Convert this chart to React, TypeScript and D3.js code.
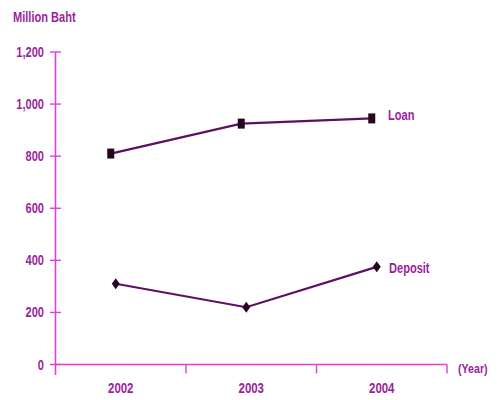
import React from "react";
import * as d3 from "d3";

// Annual figures, million baht
const years = [2002, 2003, 2004];
const loan = [810, 925, 945];
const deposit = [310, 220, 375];
const yTicks = [0, 200, 400, 600, 800, 1000, 1200];

const W = 497;
const H = 400;
const AXIS = "#dc3fdc";
const TEXT = "#9a1f9c";
const LINE = "#5e0f62";
const MARK = "#250820";
const FONT = "'Liberation Sans', Arial, sans-serif";
const SQUEEZE = 0.79;

type LabelProps = {
  x: number;
  y: number;
  anchor?: "start" | "middle" | "end";
  size?: number;
  children: React.ReactNode;
};

// Condensed bold label: horizontally squeezed around its anchor point
function Label({ x, y, anchor = "start", size = 14, children }: LabelProps) {
  return (
    <g transform={`translate(${x},${y}) scale(${SQUEEZE},1)`}>
      <text x={0} y={0} textAnchor={anchor} fontSize={size} fill={TEXT}>
        {children}
      </text>
    </g>
  );
}

export default function App() {
  const x = d3.scaleBand<number>().domain(years).range([55.5, 447]);
  const y = d3.scaleLinear().domain([0, 1200]).range([364.5, 52]);
  const cx = (yr: number) => (x(yr) as number) + x.bandwidth() / 2;

  const loanDx = -10;
  const depDx = -5;

  const line = d3
    .line<[number, number]>()
    .x((d) => d[0])
    .y((d) => d[1]);

  const loanPts: [number, number][] = years.map((yr, i) => [cx(yr) + loanDx, y(loan[i])]);
  const depPts: [number, number][] = years.map((yr, i) => [cx(yr) + depDx, y(deposit[i])]);

  const bounds = [...years.map((yr) => x(yr) as number), x.range()[1]];

  return (
    <svg
      width={W}
      height={H}
      style={{ position: "absolute", left: 0, top: 0, background: "#fff" }}
      fontFamily={FONT}
      fontWeight="bold"
    >
      <Label x={13} y={22}>Million Baht</Label>

      {/* y axis */}
      <line x1={55.5} x2={55.5} y1={y(1200)} y2={375} stroke={AXIS} strokeWidth={1.6} />
      {yTicks.map((t) => (
        <g key={t}>
          <line x1={50} x2={61} y1={y(t)} y2={y(t)} stroke={AXIS} strokeWidth={1.4} />
          <Label x={44} y={y(t) + 5} anchor="end">
            {d3.format(",")(t)}
          </Label>
        </g>
      ))}

      {/* x axis */}
      <line x1={55.5} x2={447} y1={y(0)} y2={y(0)} stroke={AXIS} strokeWidth={1.6} />
      {bounds.slice(1).map((b, i) => (
        <line key={i} x1={b} x2={b} y1={y(0)} y2={y(0) + 9} stroke={AXIS} strokeWidth={1.4} />
      ))}
      {years.map((yr) => (
        <Label key={yr} x={cx(yr)} y={393} anchor="middle" size={14.5}>
          {yr}
        </Label>
      ))}
      <Label x={458} y={373} size={13.5}>(Year)</Label>

      {/* Loan series */}
      <path d={line(loanPts) ?? ""} fill="none" stroke={LINE} strokeWidth={2.2} />
      {loanPts.map(([px, py], i) => (
        <rect key={i} x={px - 3.5} y={py - 5} width={7} height={10} fill={MARK} />
      ))}
      <Label x={388} y={y(loan[2]) + 2}>Loan</Label>

      {/* Deposit series */}
      <path d={line(depPts) ?? ""} fill="none" stroke={LINE} strokeWidth={2.2} />
      {depPts.map(([px, py], i) => (
        <path
          key={i}
          d={`M${px},${py - 5.5}L${px + 4},${py}L${px},${py + 5.5}L${px - 4},${py}Z`}
          fill={MARK}
        />
      ))}
      <Label x={389} y={y(deposit[2]) + 6.5}>Deposit</Label>
    </svg>
  );
}
